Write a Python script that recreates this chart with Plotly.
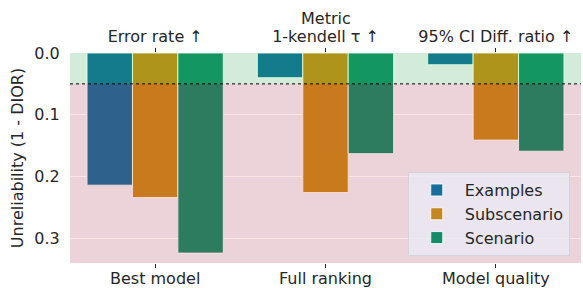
import plotly.graph_objects as go

groups = ["Best model", "Full ranking", "Model quality"]
metrics = ["Error rate ↑", "1-kendell τ ↑", "95% CI Diff. ratio ↑"]
series = ["Examples", "Subscenario", "Scenario"]
examples = [0.214, 0.040, 0.019]
subscenario = [0.234, 0.226, 0.141]
scenario = [0.324, 0.163, 0.159]
values = [examples, subscenario, scenario]
threshold = 0.05
y_ticks = [0.0, 0.1, 0.2, 0.3]

colors = ["#176D9C", "#C38820", "#168B6A"]
txt = "#262626"
FONT = "DejaVu Sans"
FS = 16
ymax = 0.34

fig = go.Figure()
for name, vals, c in zip(series, values, colors):
    fig.add_trace(go.Bar(
        x=groups, y=vals, name=name,
        marker=dict(color=c, line=dict(color="rgba(255,255,255,0.85)", width=1)),
    ))
# invisible trace so the top "Metric" axis is drawn
fig.add_trace(go.Bar(x=metrics, y=examples, xaxis="x2", opacity=0, showlegend=False,
                     hoverinfo="skip", marker=dict(line=dict(width=0))))

fig.update_layout(
    width=583, height=288,
    margin=dict(l=70, r=2, t=53, b=25),
    paper_bgcolor="white", plot_bgcolor="#EAEAF2",
    font=dict(family=FONT, size=FS, color=txt),
    barmode="group", bargap=0.2, bargroupgap=0,
    showlegend=True,
    legend=dict(
        x=0.978, y=0.033, xanchor="right", yanchor="bottom",
        bgcolor="rgba(234,234,242,0.8)", bordercolor="rgba(210,210,215,0.9)", borderwidth=1,
        font=dict(size=FS, color=txt), tracegroupgap=0, itemwidth=46,
    ),
    xaxis=dict(
        type="category", range=[-0.5, 2.5], showgrid=False, zeroline=False,
        ticks="outside", ticklen=4, tickcolor=txt, tickwidth=1, automargin=False,
        tickfont=dict(size=FS, color=txt), showline=False, ticklabelstandoff=-3,
    ),
    xaxis2=dict(
        type="category", overlaying="x", side="top", anchor="y", range=[-0.5, 2.5],
        showgrid=False, zeroline=False, ticks="outside", ticklen=4, tickcolor=txt,
        tickfont=dict(size=FS, color=txt), automargin=False, ticklabelstandoff=0,
    ),
    yaxis=dict(
        range=[ymax, 0], tickvals=y_ticks, tickformat=".1f", automargin=False,
        showgrid=True, gridcolor="white", gridwidth=1, zeroline=False,
        ticks="outside", ticklen=6, tickcolor="rgba(0,0,0,0)",
        tickfont=dict(size=FS, color=txt),
        title=dict(text="Unreliability (1 - DIOR)", font=dict(size=FS, color=txt), standoff=6),
    ),
    annotations=[dict(text="Metric", xref="paper", yref="paper", x=0.5, y=1.165,
                      xanchor="center", yanchor="middle", showarrow=False,
                      font=dict(size=FS, color=txt))],
)

# background bands (drawn on top with transparency, like axhspan)
fig.add_shape(type="rect", xref="paper", yref="y", x0=0, x1=1, y0=0, y1=threshold,
              fillcolor="rgba(0,255,0,0.1)", line=dict(width=0), layer="above")
fig.add_shape(type="rect", xref="paper", yref="y", x0=0, x1=1, y0=threshold, y1=ymax,
              fillcolor="rgba(255,0,0,0.1)", line=dict(width=0), layer="above")
fig.add_shape(type="line", xref="paper", yref="y", x0=0, x1=1, y0=threshold, y1=threshold,
              line=dict(color="black", width=1, dash="dot"), layer="above")

fig.write_html("out.html", post_script="document.body.style.margin='0';",
               config={"displayModeBar": False})
